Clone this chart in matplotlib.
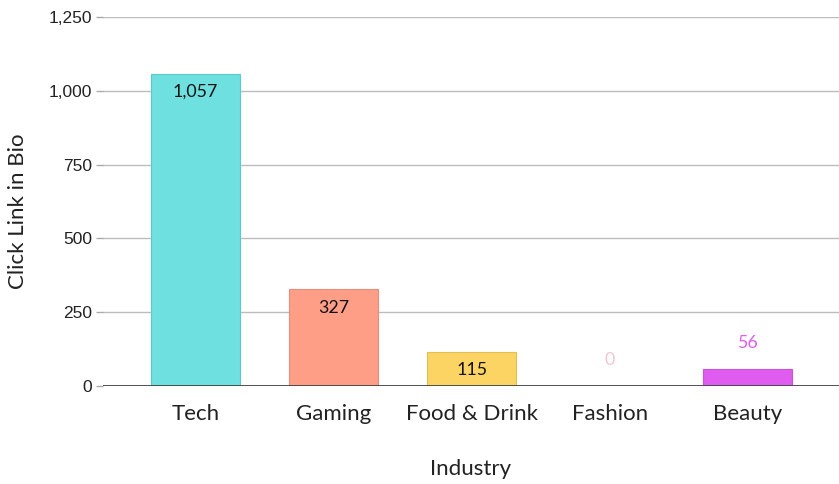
import matplotlib
matplotlib.use("Agg")
import matplotlib.pyplot as plt
from matplotlib.ticker import FuncFormatter

categories = ["Tech", "Gaming", "Food & Drink", "Fashion", "Beauty"]
values = [1057, 327, 115, 0, 56]
colors = ["#6EE0E0", "#FF9E87", "#FBD463", "#F2C6D2", "#E05CF0"]
yticks = [0, 250, 500, 750, 1000, 1250]

fig = plt.figure(figsize=(8.39, 4.84), dpi=100)
ax = fig.add_axes([103/839, 1-386/484, 1-103/839, (386-17)/484])

x = list(range(len(categories)))
ax.bar(x, values, width=0.645, color=colors,
       edgecolor=["#5CCACA", "#E88E78", "#E3BF55", "#F2C6D2", "#CC50DC"],
       linewidth=0.8, zorder=3)

ax.set_xlim(-0.67, 4.66)
ax.set_ylim(0, 1250)
ax.set_yticks(yticks)
ax.yaxis.set_major_formatter(FuncFormatter(lambda v, p: f"{int(v):,}"))
ax.grid(axis="y", color="#BDBDBD", linewidth=1, zorder=0)
ax.axhline(0, color="#444444", linewidth=1.3, zorder=4)
for s in ax.spines.values():
    s.set_visible(False)

ax.tick_params(axis="y", length=5, color="#AAAAAA", width=1, pad=3, labelsize=12.5, labelcolor="#222222")
ax.tick_params(axis="x", length=0, pad=13)
ax.set_xticks(x)
ax.set_xticklabels(categories, fontsize=16, family="Lato", color="#222222")
for lab in ax.get_yticklabels():
    lab.set_family("Liberation Sans")

ax.set_xlabel("Industry", fontsize=16, family="Lato", color="#222222", labelpad=25)
ax.set_ylabel("Click Link in Bio", fontsize=16, family="Lato", color="#222222")
ax.yaxis.set_label_coords(-0.102, 0.474)

for i, (v, c) in enumerate(zip(values, colors)):
    if v > 100:
        ax.annotate(f"{v:,}", (i, v), xytext=(0, -13), textcoords="offset points",
                    ha="center", va="center", fontsize=12.8, family="Lato", color="#111111", zorder=5)
    else:
        ax.annotate(f"{v:,}", (i, v), xytext=(0, 18.8), textcoords="offset points",
                    ha="center", va="center", fontsize=12.8, family="Lato", color=c, zorder=5)

fig.savefig("out.png", dpi=100)
